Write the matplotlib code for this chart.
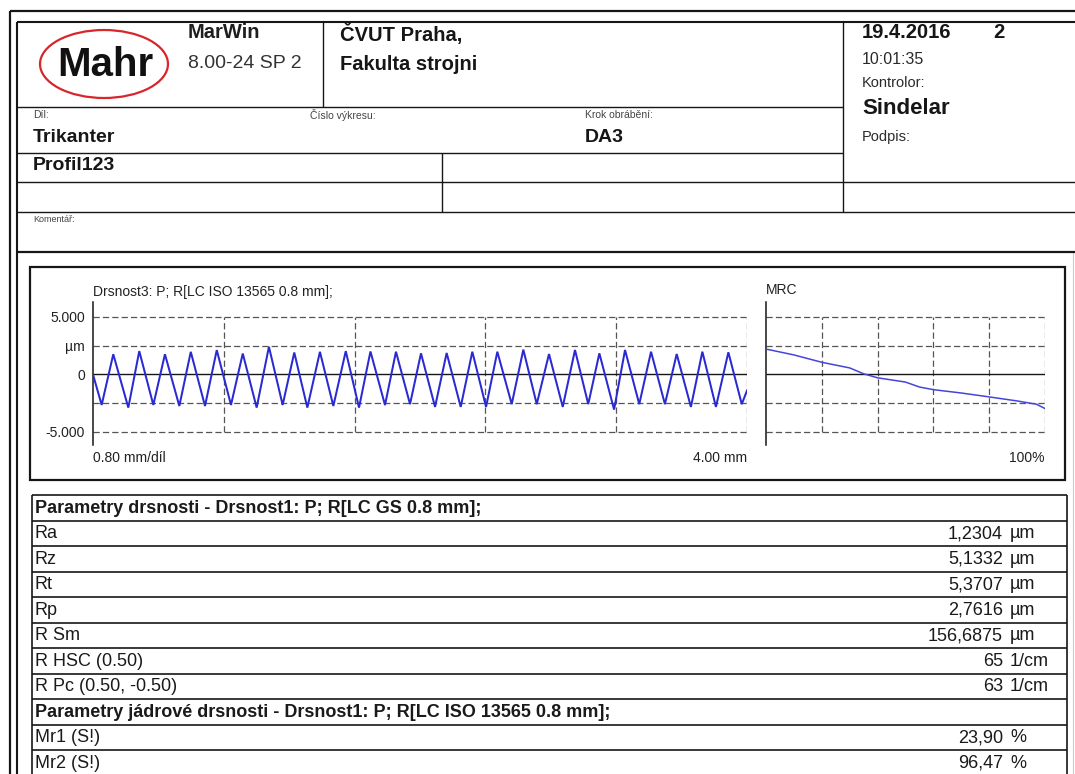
import matplotlib

matplotlib.use("Agg")
import matplotlib.pyplot as plt
from matplotlib.patches import Ellipse

plt.rcParams["font.family"] = ["Liberation Sans", "DejaVu Sans"]

W, H = 1075, 774

# roughness profile (mm along trace, um height)
peak_mm = [0.124, 0.283, 0.440, 0.598, 0.757, 0.916, 1.076, 1.231, 1.388, 1.546,
           1.697, 1.853, 2.006, 2.163, 2.320, 2.473, 2.632, 2.789, 2.948, 3.097,
           3.254, 3.413, 3.570, 3.727, 3.886]
peak_um = [1.76, 2.03, 1.76, 1.97, 2.12, 1.82, 2.41, 1.91, 1.97, 2.03,
           2.00, 1.98, 1.84, 1.87, 1.98, 1.98, 2.16, 1.78, 2.13, 1.84,
           2.13, 1.98, 1.78, 1.98, 1.93]
valley_mm = [0.053, 0.216, 0.369, 0.528, 0.685, 0.844, 1.001, 1.160, 1.311, 1.470,
             1.627, 1.786, 1.939, 2.092, 2.249, 2.404, 2.561, 2.714, 2.873, 3.029,
             3.187, 3.341, 3.498, 3.657, 3.810, 3.968]
valley_um = [-2.65, -2.88, -2.65, -2.74, -2.74, -2.65, -2.88, -2.65, -2.88, -2.74,
             -2.88, -2.66, -2.58, -2.82, -2.82, -2.82, -2.58, -2.58, -2.82, -2.58,
             -3.05, -2.58, -2.58, -2.82, -2.82, -2.58]
ends_mm = [0.0, 4.0]
ends_um = [0.0, -1.4]

# material ratio curve
mrc_pct = [0, 10, 20, 30, 35, 40, 50, 55, 60, 70, 80, 90, 97, 100]
mrc_um = [2.21, 1.70, 1.06, 0.57, 0.06, -0.29, -0.66, -1.09, -1.32, -1.61,
          -1.95, -2.30, -2.59, -2.96]

y_ticks = [5.0, 2.5, 0.0, -5.0]
y_tick_labels = ["5.000", "µm", "0", "-5.000"]
x_grid_mm = [0.8, 1.6, 2.4, 3.2, 4.0]
x_grid_pct = [20, 40, 60, 80, 100]
y_grid = [5.0, 2.5, -2.5, -5.0]

param_names = ["Ra", "Rz", "Rt", "Rp", "R Sm", "R HSC (0.50)", "R Pc (0.50, -0.50)"]
param_values = ["1,2304", "5,1332", "5,3707", "2,7616", "156,6875", "65", "63"]
param_units = ["µm", "µm", "µm", "µm", "µm", "1/cm", "1/cm"]
core_names = ["Mr1 (S!)", "Mr2 (S!)"]
core_values = ["23,90", "96,47"]
core_units = ["%", "%"]

DARK = "#161616"
GRID = "#555555"
BLUE = "#2a2ad2"
DASH = (0, (5, 2.5))


def px_axes(fig, x0, y0, x1, y1):
    return fig.add_axes([x0 / W, 1 - y1 / H, (x1 - x0) / W, (y1 - y0) / H])


def hline(ax, y, x0, x1, lw=1.0, color=DARK):
    ax.plot([x0, x1], [y, y], color=color, lw=lw, solid_capstyle="butt")


def vline(ax, x, y0, y1, lw=1.0, color=DARK):
    ax.plot([x, x], [y0, y1], color=color, lw=lw, solid_capstyle="butt")


def txt(ax, x, y, s, size, bold=False, ha="left", color=DARK):
    ax.text(x, y, s, fontsize=size, fontweight="bold" if bold else "normal",
            ha=ha, va="center", color=color)


def style_plot_axes(ax, xmax, xgrid):
    ax.set_xlim(0, xmax)
    ax.set_ylim(-6.13, 6.30)
    ax.patch.set_alpha(0)
    for side in ("top", "right", "bottom"):
        ax.spines[side].set_visible(False)
    ax.spines["left"].set_linewidth(1.1)
    ax.spines["left"].set_color(DARK)
    ax.set_xticks([])
    ax.hlines(y_grid, 0, xmax, colors=GRID, lw=0.9, linestyles=DASH, zorder=1)
    ax.vlines(xgrid, -5, 5, colors=GRID, lw=0.9, linestyles=DASH, zorder=1)
    ax.hlines([0], 0, xmax, colors=DARK, lw=1.0, zorder=2)


fig = plt.figure(figsize=(W / 100, H / 100), dpi=100)
bg = fig.add_axes([0, 0, 1, 1])
bg.set_xlim(0, W)
bg.set_ylim(H, 0)
bg.axis("off")

# page frame
hline(bg, 11, 10, W, lw=1.6)
vline(bg, 10, 11, H, lw=1.6)
hline(bg, 22, 17, W, lw=1.5)
vline(bg, 17, 22, H, lw=1.5)
vline(bg, 1073, 252, H, lw=0.8, color="#cccccc")

# header grid
hline(bg, 107, 17, 843)
hline(bg, 153, 17, 843)
hline(bg, 182, 17, W)
hline(bg, 212, 17, W)
hline(bg, 252, 17, W, lw=1.6)
vline(bg, 323, 22, 107)
vline(bg, 843, 22, 212)
vline(bg, 442, 153, 212)

bg.add_patch(Ellipse((104, 64), 128, 68, fill=False, edgecolor="#d8262b", lw=1.6))
txt(bg, 105, 65, "Mahr", 29, bold=True, ha="center", color="#111111")
txt(bg, 188, 33, "MarWin", 14.5, bold=True, color="#1e1e1e")
txt(bg, 188, 64, "8.00-24 SP 2", 14, color="#333333")
txt(bg, 340, 34, "ČVUT Praha,", 14.5, bold=True)
txt(bg, 340, 64, "Fakulta strojni", 14.5, bold=True)

txt(bg, 33, 115, "Díl:", 7.5, color="#444444")
txt(bg, 310, 115, "Číslo výkresu:", 7.5, color="#444444")
txt(bg, 585, 115, "Krok obrábění:", 7.5, color="#444444")
txt(bg, 33, 138, "Trikanter", 14, bold=True)
txt(bg, 585, 138, "DA3", 14, bold=True)
txt(bg, 33, 166, "Profil123", 14, bold=True)
txt(bg, 33, 219, "Komentář:", 6.5, color="#444444")

txt(bg, 862, 33, "19.4.2016", 14.5, bold=True)
txt(bg, 993, 33, "2", 14.5, bold=True)
txt(bg, 862, 60, "10:01:35", 11.5, color="#2a2a2a")
txt(bg, 862, 83, "Kontrolor:", 10.5, color="#2a2a2a")
txt(bg, 862, 109, "Sindelar", 16, bold=True)
txt(bg, 862, 137, "Podpis:", 10.5, color="#2a2a2a")

# chart box
bg.add_patch(plt.Rectangle((30, 267), 1035, 213, fill=False, edgecolor=DARK, lw=1.6))
txt(bg, 93, 292, "Drsnost3: P; R[LC ISO 13565 0.8 mm];", 10, color="#222222")
txt(bg, 93, 458, "0.80 mm/díl", 10, color="#222222")
txt(bg, 747, 458, "4.00 mm", 10, ha="right", color="#222222")
txt(bg, 766, 290, "MRC", 10, color="#222222")
txt(bg, 1045, 458, "100%", 10, ha="right", color="#222222")

ax = px_axes(fig, 93, 302, 747, 445)
style_plot_axes(ax, 4.0, x_grid_mm)
ax.set_yticks(y_ticks, y_tick_labels)
ax.tick_params(axis="y", length=0, pad=5.8, labelsize=10, labelcolor="#222222")
pts = sorted(zip(peak_mm + valley_mm + ends_mm, peak_um + valley_um + ends_um))
ax.plot([p[0] for p in pts], [p[1] for p in pts], color=BLUE, lw=1.45,
        solid_joinstyle="miter", zorder=3)

ax2 = px_axes(fig, 766, 302, 1045, 445)
style_plot_axes(ax2, 100, x_grid_pct)
ax2.set_yticks([])
ax2.plot(mrc_pct, mrc_um, color="#4545dc", lw=1.1, zorder=3)

# parameter table
t_left, t_right, t_top, row_h = 32, 1067, 495, 25.5
rows = [("Parametry drsnosti - Drsnost1: P; R[LC GS 0.8 mm];", None, None, True)]
rows += [(n, v, u, False) for n, v, u in zip(param_names, param_values, param_units)]
rows += [("Parametry jádrové drsnosti - Drsnost1: P; R[LC ISO 13565 0.8 mm];", None, None, True)]
rows += [(n, v, u, False) for n, v, u in zip(core_names, core_values, core_units)]

vline(bg, t_left, t_top, H, lw=1.2)
vline(bg, t_right, t_top, H, lw=1.2)
for i, (name, value, unit, is_head) in enumerate(rows):
    top = t_top + i * row_h
    hline(bg, top, t_left, t_right, lw=1.2)
    cy = top + row_h / 2 + 0.5
    txt(bg, 35, cy, name, 13, bold=is_head, color="#1a1a1a")
    if value is not None:
        txt(bg, 1003, cy, value, 13, ha="right", color="#1a1a1a")
        txt(bg, 1010, cy, unit, 13, color="#1a1a1a")
hline(bg, t_top + len(rows) * row_h, t_left, t_right, lw=1.2)

fig.savefig("out.png", dpi=100)
